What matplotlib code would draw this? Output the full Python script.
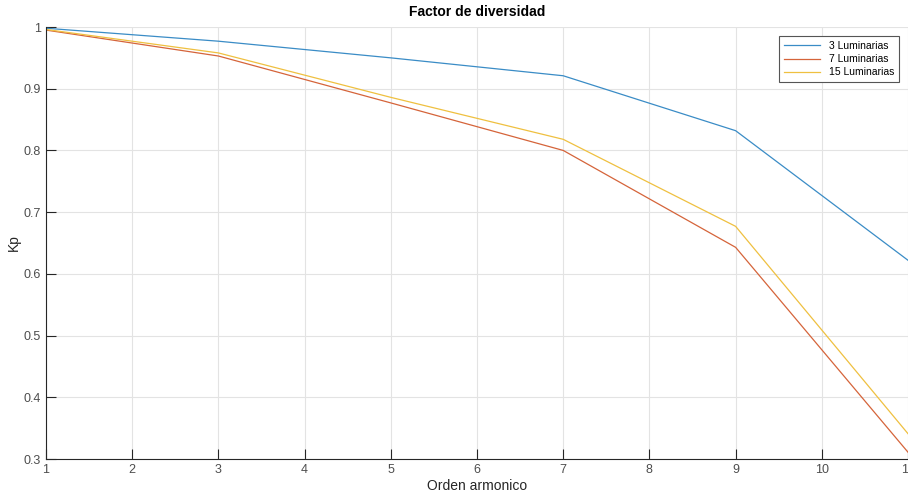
import matplotlib
matplotlib.use("Agg")
import matplotlib.pyplot as plt

plt.rcParams['font.family'] = ['Liberation Sans', 'DejaVu Sans']

orden = [1, 3, 5, 7, 9, 11]
kp_3 = [0.998, 0.977, 0.950, 0.921, 0.832, 0.622]
kp_7 = [0.995, 0.953, 0.877, 0.800, 0.643, 0.311]
kp_15 = [0.996, 0.958, 0.886, 0.818, 0.677, 0.341]
labels = ["3 Luminarias", "7 Luminarias", "15 Luminarias"]
xticks = list(range(1, 12))
yticks = [0.3, 0.4, 0.5, 0.6, 0.7, 0.8, 0.9, 1.0]
ytick_labels = ["0.3", "0.4", "0.5", "0.6", "0.7", "0.8", "0.9", "1"]

fig = plt.figure(figsize=(9.08, 4.92), dpi=100)
ax = fig.add_axes([46/908, 33/492, 862/908, (459-27)/492])

colors = ["#3a8cc6", "#d5643a", "#efc040"]
for ys, c, lab in zip([kp_3, kp_7, kp_15], colors, labels):
    ax.plot(orden, ys, color=c, lw=0.9, label=lab)

ax.set_xlim(1, 11)
ax.set_ylim(0.3, 1.0)
ax.set_xticks(xticks)
ax.set_xticklabels([str(x) for x in xticks])
ax.set_yticks(yticks)
ax.set_yticklabels(ytick_labels)
ax.grid(True, color="#e3e3e3", lw=0.8)
ax.set_axisbelow(True)
for s in ["top", "right"]:
    ax.spines[s].set_visible(False)
for s in ["left", "bottom"]:
    ax.spines[s].set_color("#262626")
    ax.spines[s].set_linewidth(0.8)
ax.tick_params(direction="in", length=7, width=0.8, colors="#262626", labelsize=9, labelcolor="#4d4d4d")
ax.set_xlabel("Orden armonico", fontsize=10, color="#262626", labelpad=2)
ax.set_ylabel("Kp", fontsize=10, color="#262626", labelpad=2)
ax.set_title("Factor de diversidad", fontsize=10, fontweight="bold", pad=8)
leg = ax.legend(loc="upper right", fontsize=7.5, frameon=True, fancybox=False,
                edgecolor="#555555", framealpha=1, borderaxespad=0.9, handlelength=3.5,
                borderpad=0.45, labelspacing=0.3)
leg.get_frame().set_linewidth(0.8)

fig.savefig("out.png", dpi=100)
